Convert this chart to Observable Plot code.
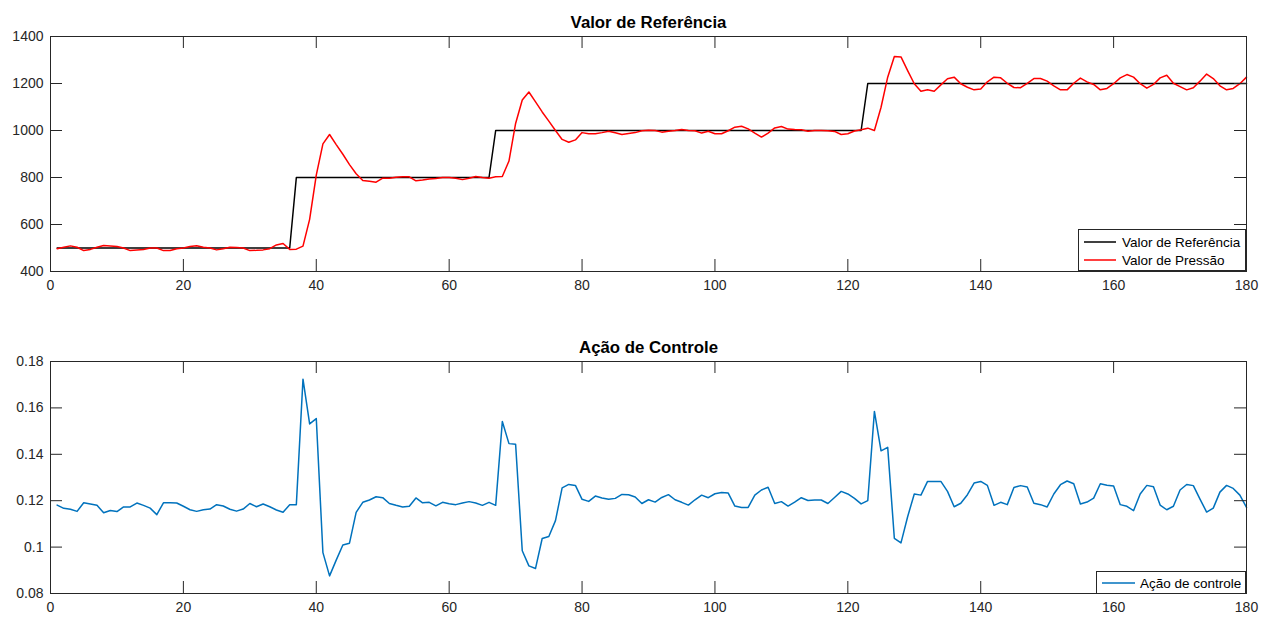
<!DOCTYPE html>
<html>
<head>
<meta charset="utf-8">
<script src="https://cdn.jsdelivr.net/npm/d3@7"></script>
<script src="https://cdn.jsdelivr.net/npm/@observablehq/plot@0.6"></script>
<style>
  html, body { margin: 0; padding: 0; background: #fff; }
  #wrap { position: relative; width: 1271px; height: 619px; background: #fff; font-family: "Liberation Sans", Arial, sans-serif; }
  #wrap svg { display: block; }
  .legend { position: absolute; background: #fff; border: 1px solid #262626; box-sizing: border-box; font-family: "Liberation Sans", Arial, sans-serif; font-size: 13.5px; color: #000; }
  .legend .row { position: absolute; left: 0; display: flex; align-items: center; height: 18px; }
  .legend .row svg { display: block; }
  .legend .row span { white-space: nowrap; }
</style>
</head>
<body>
<div id="wrap"></div>
<script>
// ---------- Data ----------
const xTicks = [0, 20, 40, 60, 80, 100, 120, 140, 160, 180];
const yTicksTop = [400, 600, 800, 1000, 1200, 1400];
const yTicksBottom = [0.08, 0.1, 0.12, 0.14, 0.16, 0.18];
const yTickLabelsBottom = ["0.08", "0.1", "0.12", "0.14", "0.16", "0.18"];

const titleTop = "Valor de Referência";
const titleBottom = "Ação de Controle";
const seriesNames = ["Valor de Referência", "Valor de Pressão", "Ação de controle"];

// Reference setpoint (breakpoints of the step signal)
const refT = [1, 36, 37, 66, 67, 122, 123, 180];
const refV = [500, 500, 800, 800, 1000, 1000, 1200, 1200];

// Pressure value, samples 1..180
const pressure = [
  497, 503, 509, 503, 489, 494, 503, 511, 509, 506,
  500, 489, 492, 494, 500, 500, 489, 489, 497, 500,
  506, 510, 503, 500, 492, 497, 503, 502, 500, 489,
  490, 492, 497, 513, 519, 494, 495, 508, 622, 810,
  943, 983, 940, 899, 855, 816, 787, 784, 780, 797,
  797, 801, 803, 803, 786, 789, 794, 796, 800, 800,
  797, 791, 797, 804, 800, 797, 803, 804, 870, 1030,
  1130, 1164, 1122, 1079, 1040, 1000, 962, 950, 960, 991,
  986, 986, 991, 997, 990, 983, 987, 991, 999, 1001,
  1000, 993, 997, 1000, 1004, 1000, 999, 989, 997, 986,
  986, 999, 1014, 1018, 1007, 989, 972, 989, 1011, 1017,
  1006, 1004, 1003, 997, 1000, 1000, 999, 996, 983, 986,
  998, 1003, 1010, 1000, 1099, 1227, 1315, 1313, 1255, 1199,
  1167, 1173, 1167, 1194, 1220, 1227, 1199, 1184, 1173, 1177,
  1207, 1227, 1224, 1201, 1183, 1182, 1201, 1221, 1221, 1210,
  1190, 1173, 1173, 1201, 1223, 1207, 1196, 1173, 1179, 1199,
  1224, 1238, 1227, 1199, 1180, 1196, 1224, 1235, 1201, 1187,
  1173, 1182, 1210, 1240, 1221, 1190, 1173, 1179, 1199, 1227
];

// Control action, samples 1..180
const control = [
  0.1181, 0.1167, 0.1163, 0.1154, 0.1191, 0.1186, 0.1180, 0.1148, 0.1158, 0.1153,
  0.1173, 0.1173, 0.1190, 0.1180, 0.1168, 0.1140, 0.1191, 0.1191, 0.1190, 0.1176,
  0.1161, 0.1154, 0.1161, 0.1164, 0.1183, 0.1177, 0.1163, 0.1155, 0.1164, 0.1188,
  0.1174, 0.1186, 0.1174, 0.1160, 0.1150, 0.1183, 0.1183, 0.1724, 0.1531, 0.1554,
  0.0976, 0.0876, 0.0944, 0.1009, 0.1017, 0.1150, 0.1193, 0.1203, 0.1217, 0.1213,
  0.1188, 0.1180, 0.1173, 0.1176, 0.1212, 0.1191, 0.1193, 0.1178, 0.1193, 0.1187,
  0.1183, 0.1190, 0.1196, 0.1190, 0.1180, 0.1193, 0.1180, 0.1541, 0.1446, 0.1443,
  0.0984, 0.0919, 0.0908, 0.1037, 0.1046, 0.1114, 0.1255, 0.1270, 0.1266, 0.1206,
  0.1197, 0.1220, 0.1212, 0.1206, 0.1210, 0.1227, 0.1226, 0.1216, 0.1188, 0.1204,
  0.1194, 0.1214, 0.1226, 0.1204, 0.1193, 0.1181, 0.1204, 0.1224, 0.1213, 0.1230,
  0.1235, 0.1233, 0.1177, 0.1171, 0.1171, 0.1224, 0.1246, 0.1258, 0.1188, 0.1196,
  0.1177, 0.1194, 0.1213, 0.1201, 0.1203, 0.1203, 0.1188, 0.1214, 0.1240, 0.1229,
  0.1210, 0.1186, 0.1200, 0.1585, 0.1415, 0.1430, 0.1038, 0.1018, 0.1131, 0.1229,
  0.1224, 0.1283, 0.1283, 0.1283, 0.1240, 0.1174, 0.1189, 0.1226, 0.1276, 0.1283,
  0.1266, 0.1180, 0.1193, 0.1183, 0.1257, 0.1265, 0.1259, 0.1189, 0.1183, 0.1173,
  0.1229, 0.1269, 0.1285, 0.1273, 0.1186, 0.1194, 0.1211, 0.1273, 0.1267, 0.1263,
  0.1183, 0.1176, 0.1157, 0.1229, 0.1266, 0.1260, 0.1181, 0.1161, 0.1176, 0.1246,
  0.1270, 0.1265, 0.1207, 0.1151, 0.1168, 0.1237, 0.1266, 0.1253, 0.1224, 0.1171
];

// ---------- Build tables ----------
const refData = refT.map((t, i) => ({t, v: refV[i]}));
const pressData = pressure.map((v, i) => ({t: i + 1, v}));
const ctrlData = control.map((v, i) => ({t: i + 1, v}));

const W = 1271;
const mL = 50, mR = 25;
const plotW = W - mL - mR;
const axisColor = "#262626";
const tickLen = 12;
const fontFamily = "'Liberation Sans', Arial, sans-serif";

function axesMarks(yTicks, plotH, yFmt) {
  return [
    Plot.ruleX(xTicks, {x: d => d, insetTop: plotH - tickLen, stroke: axisColor, strokeWidth: 1}),
    Plot.ruleX(xTicks, {x: d => d, insetBottom: plotH - tickLen, stroke: axisColor, strokeWidth: 1}),
    Plot.ruleY(yTicks, {y: d => d, insetRight: plotW - tickLen, stroke: axisColor, strokeWidth: 1}),
    Plot.ruleY(yTicks, {y: d => d, insetLeft: plotW - tickLen, stroke: axisColor, strokeWidth: 1}),
    Plot.frame({stroke: axisColor, strokeWidth: 1}),
    Plot.axisX({ticks: xTicks, tickSize: 0, tickPadding: 9, label: null, fontSize: 14, fill: axisColor}),
    Plot.axisY({ticks: yTicks, tickSize: 0, tickPadding: 7, label: null, fontSize: 14, fill: axisColor, tickFormat: yFmt})
  ];
}

function titleMark(t) {
  return Plot.text([t], {text: d => d, frameAnchor: "top", lineAnchor: "middle", dy: -14, fontWeight: "bold", fontSize: 16.8, fill: "#000"});
}

// Top chart
const h1 = 310, mT1 = 36, mB1 = 39;
const plotH1 = h1 - mT1 - mB1;
const chart1 = Plot.plot({
  width: W, height: h1,
  marginLeft: mL, marginRight: mR, marginTop: mT1, marginBottom: mB1,
  style: {fontFamily, fontSize: "14px", background: "#fff", color: axisColor, overflow: "visible"},
  x: {domain: [0, 180]},
  y: {domain: [400, 1400]},
  marks: [
    Plot.line(refData, {x: "t", y: "v", stroke: "#000000", strokeWidth: 1.5}),
    Plot.line(pressData, {x: "t", y: "v", stroke: "#ff0000", strokeWidth: 1.5}),
    ...axesMarks(yTicksTop, plotH1, d => String(d)),
    titleMark(titleTop)
  ]
});

// Bottom chart
const h2 = 309, mT2 = 51, mB2 = 26;
const plotH2 = h2 - mT2 - mB2;
const chart2 = Plot.plot({
  width: W, height: h2,
  marginLeft: mL, marginRight: mR, marginTop: mT2, marginBottom: mB2,
  style: {fontFamily, fontSize: "14px", background: "#fff", color: axisColor, overflow: "visible"},
  x: {domain: [0, 180]},
  y: {domain: [0.08, 0.18]},
  marks: [
    Plot.line(ctrlData, {x: "t", y: "v", stroke: "#0072BD", strokeWidth: 1.5}),
    ...axesMarks(yTicksBottom, plotH2, d => yTickLabelsBottom[yTicksBottom.indexOf(d)] ?? String(d)),
    titleMark(titleBottom)
  ]
});

const wrap = document.getElementById("wrap");
wrap.appendChild(chart1);
wrap.appendChild(chart2);

// Legends
function legend(left, top, width, height, items) {
  const box = document.createElement("div");
  box.className = "legend";
  Object.assign(box.style, {left: left + "px", top: top + "px", width: width + "px", height: height + "px"});
  items.forEach(it => {
    const row = document.createElement("div");
    row.className = "row";
    row.style.top = it.top + "px";
    row.style.left = it.left + "px";
    row.innerHTML = `<svg width="${it.lineW}" height="18"><line x1="0" x2="${it.lineW}" y1="9" y2="9" stroke="${it.color}" stroke-width="1.5"/></svg><span style="margin-left:${it.gap}px">${it.name}</span>`;
    box.appendChild(row);
  });
  wrap.appendChild(box);
}
legend(1078, 229, 168, 42, [
  {name: seriesNames[0], color: "#000000", top: 3, left: 5, lineW: 32, gap: 6},
  {name: seriesNames[1], color: "#ff0000", top: 21, left: 5, lineW: 32, gap: 6}
]);
legend(1096, 571, 150, 23, [
  {name: seriesNames[2], color: "#0072BD", top: 2, left: 5, lineW: 33, gap: 5}
]);
</script>
</body>
</html>
